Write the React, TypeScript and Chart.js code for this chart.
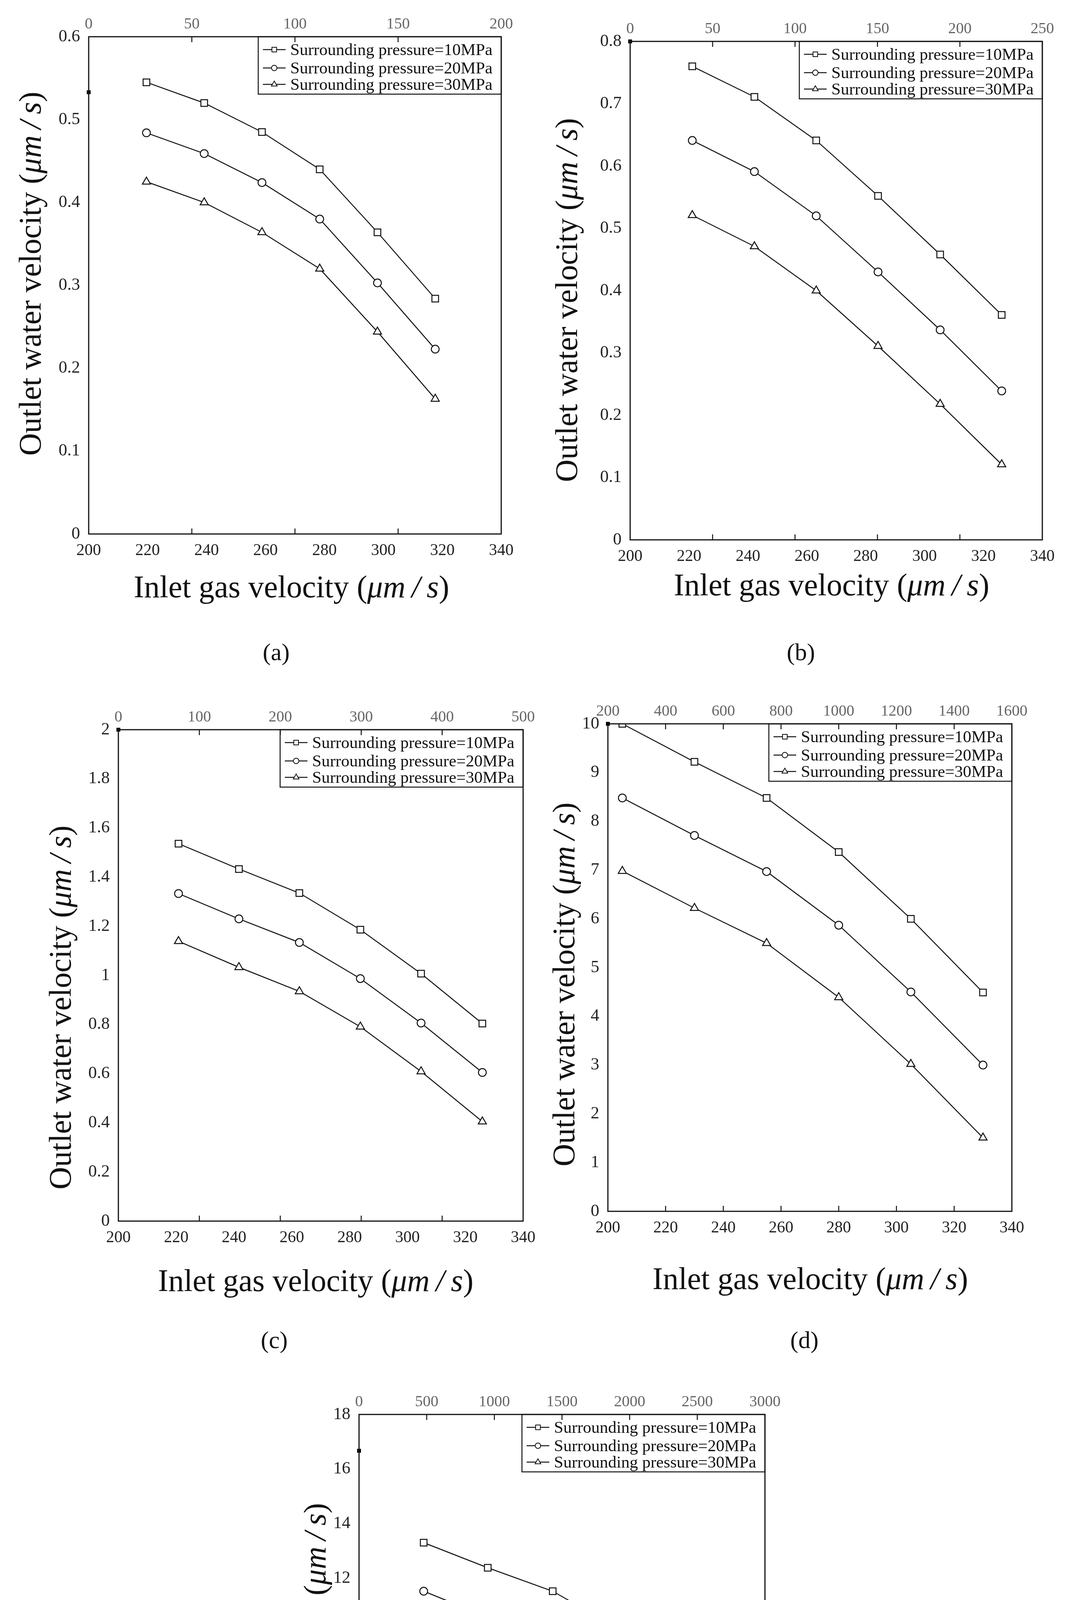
import { useEffect, useRef } from "react";
import { Chart, registerables } from "chart.js";
import { drawPoint } from "chart.js/helpers";

Chart.register(...registerables);

const FONT = "'Liberation Serif', 'Times New Roman', serif";

const seriesLabels = [
  "Surrounding pressure=10MPa",
  "Surrounding pressure=20MPa",
  "Surrounding pressure=30MPa",
];

// (a)
const xA = [219.6, 239.2, 258.8, 278.4, 298.0, 317.6];
const a10 = [0.545, 0.52, 0.485, 0.44, 0.364, 0.284];
const a20 = [0.484, 0.459, 0.424, 0.38, 0.303, 0.223];
const a30 = [0.425, 0.4, 0.364, 0.32, 0.244, 0.163];

// (b)
const xB = [221.1, 242.2, 263.2, 284.2, 305.3, 326.2];
const b10 = [0.76, 0.711, 0.641, 0.552, 0.458, 0.361];
const b20 = [0.641, 0.591, 0.52, 0.43, 0.337, 0.239];
const b30 = [0.521, 0.471, 0.4, 0.311, 0.218, 0.121];

// (c)
const xC = [220.8, 241.7, 262.6, 283.7, 304.7, 325.9];
const c10 = [1.536, 1.433, 1.335, 1.186, 1.007, 0.804];
const c20 = [1.333, 1.23, 1.134, 0.987, 0.806, 0.605];
const c30 = [1.139, 1.033, 0.935, 0.791, 0.609, 0.405];

// (d)
const xD = [205, 230, 255, 280, 305, 330];
const d10 = [10.0, 9.22, 8.48, 7.37, 6.0, 4.49];
const d20 = [8.48, 7.71, 6.97, 5.87, 4.5, 3.0];
const d30 = [6.98, 6.22, 5.5, 4.39, 3.02, 1.51];

// (e)
const xE = [222.3, 244.4, 266.8, 288.9, 311.0, 333.1];
const e10 = [13.3, 12.38, 11.52, 10.18, 8.55, 6.73];
const e20 = [11.52, 10.57, 9.68, 8.37, 6.73, 4.95];
const e30 = [9.73, 8.82, 7.97, 6.63, 5.0, 3.15];

// bottom axis ticks (shared)
const bottomMin = 200;
const bottomMax = 340;
const bottomStep = 20;

// top axis ranges [min, max, step] per panel
const topA = [0, 200, 50];
const topB = [0, 250, 50];
const topC = [0, 500, 100];
const topD = [200, 1600, 200];
const topE = [0, 3000, 500];

// y axis [max, step] per panel
const yA = [0.6, 0.1];
const yB = [0.8, 0.1];
const yC = [2, 0.2];
const yD = [10, 1];
const yE = [18, 2];

// the stray black square on the left axis of each panel
const markA = 0.533;
const markB = 0.8;
const markC = 2;
const markD = 10;
const markE = 16.67;

type Panel = {
  tag: string;
  xs: number[];
  series: number[][];
  top: number[];
  yAxis: number[];
  mark: number;
  area: [number, number, number, number]; // left, top, right, bottom (page px)
  yTitle: [number, number];
  xTitle: [number, number];
  tagPos: [number, number];
};

const panels: Panel[] = [
  { tag: "(a)", xs: xA, series: [a10, a20, a30], top: topA, yAxis: yA, mark: markA,
    area: [227, 94, 1283, 1367], yTitle: [144, -30], xTitle: [-9, 138], tagPos: [707, 1669] },
  { tag: "(b)", xs: xB, series: [b10, b20, b30], top: topB, yAxis: yB, mark: markB,
    area: [1613, 106, 2668, 1382], yTitle: [157, 24], xTitle: [-12, 118], tagPos: [2050, 1669] },
  { tag: "(c)", xs: xC, series: [c10, c20, c30], top: topC, yAxis: yC, mark: markC,
    area: [303, 1868, 1339, 3126], yTitle: [143, 82], xTitle: [-13, 155], tagPos: [702, 3430] },
  { tag: "(d)", xs: xD, series: [d10, d20, d30], top: topD, yAxis: yD, mark: markD,
    area: [1556, 1853, 2590, 3101], yTitle: [107, 43], xTitle: [1, 175], tagPos: [2059, 3430] },
  { tag: "(e)", xs: xE, series: [e10, e20, e30], top: topE, yAxis: yE, mark: markE,
    area: [919, 3621, 1958, 4878], yTitle: [107, 64], xTitle: [12, 140], tagPos: [1381, 5172] },
];

const ML = 240;
const MT = 110;
const MR = 70;
const MB = 250;

const styles = ["rect", "circle", "triangle"];
const radii = [12, 10, 12];
const INK = "#111";

const fmt = (v: any) => String(Number(Number(v).toFixed(3)));

type Part = { t: string; i?: boolean };
const yTitleParts: Part[] = [{ t: "Outlet water velocity (" }, { t: "\u03bcm\u2009/\u2009s", i: true }, { t: ")" }];
const xTitleParts: Part[] = [{ t: "Inlet gas velocity (" }, { t: "\u03bcm\u2009/\u2009s", i: true }, { t: ")" }];

function drawRich(ctx: CanvasRenderingContext2D, parts: Part[], size: number, cx: number, cy: number, vertical: boolean, base: number) {
  const fonts = parts.map((p) => `${p.i ? "italic " : ""}${size}px ${FONT}`);
  let total = 0;
  const widths = parts.map((p, k) => {
    ctx.font = fonts[k];
    const w = ctx.measureText(p.t).width;
    total += w;
    return w;
  });
  ctx.save();
  ctx.translate(cx, cy);
  if (vertical) ctx.rotate(-Math.PI / 2);
  ctx.fillStyle = INK;
  ctx.textAlign = "left";
  ctx.textBaseline = "alphabetic";
  let x = -total / 2;
  parts.forEach((p, k) => {
    ctx.font = fonts[k];
    ctx.fillText(p.t, x, size * base);
    x += widths[k];
  });
  ctx.restore();
}

function makeDecor(panel: Panel) {
  return {
    id: "decor",
    afterDraw(chart: any) {
      const ctx: CanvasRenderingContext2D = chart.ctx;
      const ca = chart.chartArea;
      const top = chart.scales.x2;
      ctx.save();
      // legend box
      const bw = 622;
      const bh = 147;
      const bx = ca.right - bw;
      const by = ca.top;
      ctx.fillStyle = "#fff";
      ctx.fillRect(bx, by, bw, bh);
      ctx.strokeStyle = INK;
      ctx.lineWidth = 2.5;
      ctx.strokeRect(bx, by, bw, bh);
      const rows = [33, 80, 122];
      chart.data.datasets.slice(0, 3).forEach((ds: any, k: number) => {
        const ry = by + rows[k];
        ctx.strokeStyle = INK;
        ctx.lineWidth = 2.5;
        ctx.beginPath();
        ctx.moveTo(bx + 12, ry);
        ctx.lineTo(bx + 70, ry);
        ctx.stroke();
        ctx.fillStyle = "#fff";
        ctx.strokeStyle = INK;
        ctx.lineWidth = 2;
        drawPoint(ctx, { pointStyle: ds.pointStyle, radius: ds.pointRadius * 0.7, rotation: 0, borderWidth: 2 } as any, bx + 41, ry);
        ctx.fillStyle = INK;
        ctx.font = `43px ${FONT}`;
        ctx.textAlign = "left";
        ctx.textBaseline = "alphabetic";
        ctx.fillText(ds.label, bx + 82, ry + 14);
      });
      // frame
      ctx.strokeStyle = INK;
      ctx.lineWidth = 3;
      ctx.strokeRect(ca.left, ca.top, ca.right - ca.left, ca.bottom - ca.top);
      // inward ticks, at the top axis' major ticks, on top and bottom edges
      ctx.lineWidth = 2.5;
      top.ticks.forEach((tk: any) => {
        if (tk.value <= top.min || tk.value >= top.max) return;
        const px = top.getPixelForValue(tk.value);
        ctx.beginPath();
        ctx.moveTo(px, ca.top);
        ctx.lineTo(px, ca.top + 14);
        ctx.moveTo(px, ca.bottom);
        ctx.lineTo(px, ca.bottom - 14);
        ctx.stroke();
      });
      ctx.restore();
      // axis titles
      drawRich(ctx, yTitleParts, 80, ca.left - panel.yTitle[0], (ca.top + ca.bottom) / 2 + panel.yTitle[1], true, 0.26);
      drawRich(ctx, xTitleParts, 80, (ca.left + ca.right) / 2 + panel.xTitle[0], ca.bottom + panel.xTitle[1], false, 0.3);
    },
  };
}

function PanelChart({ panel }: { panel: Panel }) {
  const ref = useRef<HTMLCanvasElement>(null);
  const [L, T, R, B] = panel.area;
  const cw = R - L + ML + MR;
  const ch = B - T + MT + MB;

  useEffect(() => {
    let chart: Chart | undefined;
    if (ref.current) {
      const datasets: any[] = panel.series.map((vals, k) => ({
        label: seriesLabels[k],
        data: panel.xs.map((x, j) => ({ x, y: vals[j] })),
        xAxisID: "x",
        yAxisID: "y",
        borderColor: INK,
        borderWidth: 2.5,
        pointStyle: styles[k],
        pointRadius: radii[k],
        pointBackgroundColor: "#fff",
        pointBorderColor: INK,
        pointBorderWidth: 2.5,
        tension: 0,
        fill: false,
      }));
      datasets.push({
        label: "",
        data: [{ x: panel.top[0], y: panel.mark }],
        xAxisID: "x2",
        yAxisID: "y",
        showLine: false,
        pointStyle: "rect",
        pointRadius: 7,
        pointBackgroundColor: "#000",
        pointBorderWidth: 0,
        clip: false,
      });
      const tickFont = { family: FONT, size: 42 };
      chart = new Chart(ref.current, {
        type: "line",
        data: { datasets },
        options: {
          animation: false,
          responsive: false,
          devicePixelRatio: 1,
          layout: { padding: { left: 0, top: 0, right: MR, bottom: 0 } },
          plugins: { legend: { display: false }, tooltip: { enabled: false } },
          scales: {
            x: {
              type: "linear",
              position: "bottom",
              min: bottomMin,
              max: bottomMax,
              ticks: { stepSize: bottomStep, padding: 18, color: "#222", font: tickFont, maxRotation: 0, autoSkip: false, callback: fmt },
              grid: { display: false, drawTicks: false },
              border: { display: false },
              afterFit: (s: any) => { s.height = MB; },
            },
            x2: {
              type: "linear",
              position: "top",
              min: panel.top[0],
              max: panel.top[1],
              ticks: { stepSize: panel.top[2], padding: 8, color: "#666", font: { family: FONT, size: 40 }, maxRotation: 0, autoSkip: false, callback: fmt },
              grid: { display: false, drawTicks: false },
              border: { display: false },
              afterFit: (s: any) => { s.height = MT; },
            },
            y: {
              type: "linear",
              position: "left",
              min: 0,
              max: panel.yAxis[0],
              ticks: { stepSize: panel.yAxis[1], padding: 22, color: "#222", font: { family: FONT, size: 44 }, autoSkip: false, callback: fmt },
              grid: { display: false, drawTicks: false },
              border: { display: false },
              afterFit: (s: any) => { s.width = ML; },
            },
          },
        } as any,
        plugins: [makeDecor(panel)],
      });
    }
    return () => {
      chart?.destroy();
    };
  }, []);

  return (
    <>
      <canvas
        ref={ref}
        width={cw}
        height={ch}
        style={{ position: "absolute", left: L - ML, top: T - MT, width: cw, height: ch }}
      />
      <div
        style={{
          position: "absolute",
          left: panel.tagPos[0],
          top: panel.tagPos[1],
          transform: "translate(-50%, -50%)",
          font: `62px ${FONT}`,
          lineHeight: "62px",
          color: INK,
        }}
      >
        {panel.tag}
      </div>
    </>
  );
}

export default function App() {
  return (
    <div style={{ position: "absolute", left: 0, top: 0, width: 2767, height: 5211, background: "#fff", overflow: "hidden" }}>
      {panels.map((p) => (
        <PanelChart key={p.tag} panel={p} />
      ))}
    </div>
  );
}
